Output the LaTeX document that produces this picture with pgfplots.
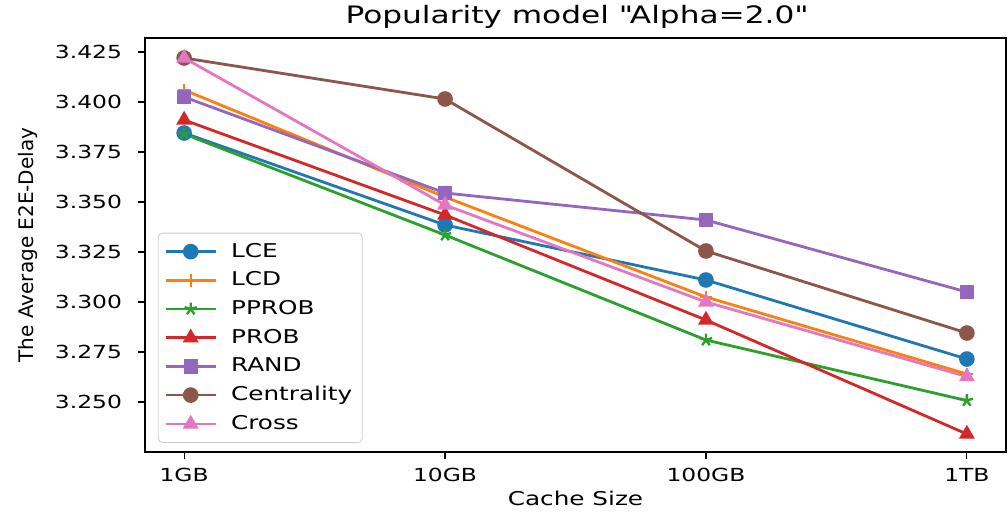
\documentclass[border=0pt]{standalone}
\usepackage{pgfplots}
\pgfplotsset{compat=1.18}
\usetikzlibrary{calc}
\usepackage{fontspec}
\setmainfont{DejaVu Sans}[FakeStretch=1.3]
\newfontfamily\plainfont{DejaVu Sans}

\definecolor{c0}{HTML}{1F77B4}
\definecolor{c1}{HTML}{FF7F0E}
\definecolor{c2}{HTML}{2CA02C}
\definecolor{c3}{HTML}{D62728}
\definecolor{c4}{HTML}{9467BD}
\definecolor{c5}{HTML}{8C564B}
\definecolor{c6}{HTML}{E377C2}

\begin{document}
\begin{tikzpicture}
\begin{axis}[
  scale only axis,
  width=430.5pt, height=207pt,
  xmin=-0.15, xmax=3.15,
  ymin=3.225, ymax=3.432,
  xtick={0,1,2,3},
  xticklabels={1GB,10GB,100GB,1TB},
  ytick={3.250,3.275,3.300,3.325,3.350,3.375,3.400,3.425},
  yticklabel style={xshift=-4.5pt, /pgf/number format/.cd,fixed,fixed zerofill,precision=3},
  /pgf/number format/assume math mode=true,
  tick align=outside,
  xtick pos=bottom, ytick pos=left,
  major tick length=3.5pt,
  tick style={black, line width=0.6pt},
  axis line style={line width=0.6pt},
  ticklabel style={font=\fontsize{9}{11}\selectfont},
  xticklabel style={yshift=-1pt},
  title={Popularity model \textquotedbl Alpha=2.0\textquotedbl},
  title style={font=\fontsize{12}{14}\selectfont, yshift=-5pt},
  xlabel={Cache Size},
  xlabel style={font=\fontsize{9.5}{11}\selectfont, yshift=2pt},
  ylabel={The Average E2E-Delay},
  ylabel style={font=\plainfont\fontsize{10}{12}\selectfont, yshift=2pt},
  legend style={at={(0.015,0.022)}, anchor=south west,
    font=\fontsize{9.5}{11}\selectfont,
    draw=black!20, rounded corners=2pt, row sep=1.8pt,
    inner sep=3pt,
    /tikz/every odd column/.append style={column sep=5pt}},
  legend image code/.code={%
    \draw[mark repeat=2,mark phase=2,#1] plot coordinates {(0pt,0pt) (12.5pt,0pt) (25pt,0pt)};},
  legend cell align=left,
  every axis plot/.append style={line width=1.4pt, mark size=3.2pt},
]
\addplot[c0, mark=*, mark options={fill=c0}] coordinates {(0,3.3845) (1,3.3385) (2,3.311) (3,3.2715)};
\addlegendentry{LCE}
\addplot[c1, mark=+, mark options={line width=1.2pt}] coordinates {(0,3.406) (1,3.3525) (2,3.3025) (3,3.2640)};
\addlegendentry{LCD}
\addplot[c2, mark=star, mark options={fill=c2, line width=1.2pt}] coordinates {(0,3.3840) (1,3.3335) (2,3.281) (3,3.2507)};
\addlegendentry{PPROB}
\addplot[c3, mark=triangle*, mark options={fill=c3}] coordinates {(0,3.391) (1,3.3435) (2,3.291) (3,3.2340)};
\addlegendentry{PROB}
\addplot[c4, mark=square*, mark size=2.9pt, mark options={fill=c4}] coordinates {(0,3.4025) (1,3.3545) (2,3.341) (3,3.305)};
\addlegendentry{RAND}
\addplot[c5, mark=*, mark options={fill=c5}] coordinates {(0,3.422) (1,3.4015) (2,3.3255) (3,3.2845)};
\addlegendentry{Centrality}
\addplot[c6, mark=triangle*, mark options={fill=c6}] coordinates {(0,3.422) (1,3.3485) (2,3.300) (3,3.2627)};
\addlegendentry{Cross}
\end{axis}
\pgfresetboundingbox
\path[use as bounding box] ($(current axis.south west)+(-72.5pt,-31.5pt)$) rectangle ($(current axis.north east)+(1pt,19pt)$);
\end{tikzpicture}
\end{document}
